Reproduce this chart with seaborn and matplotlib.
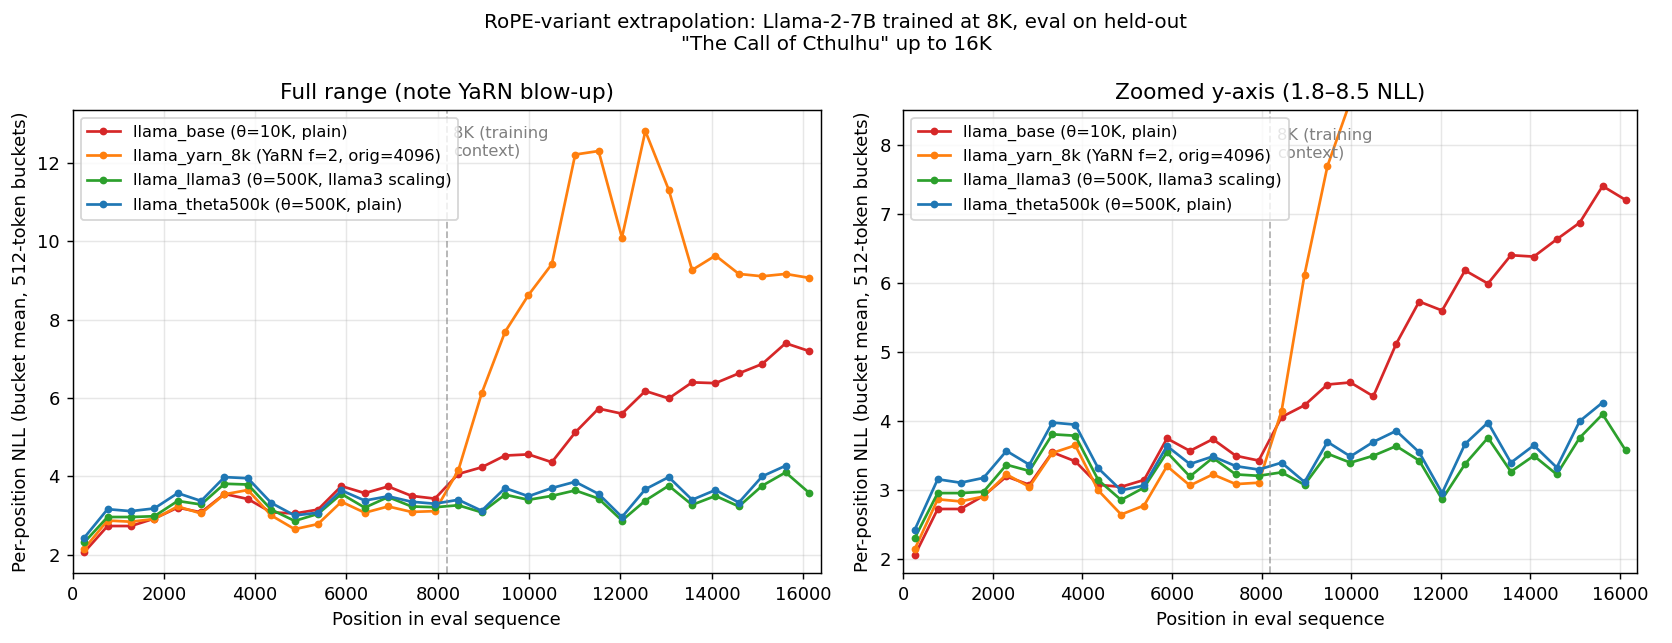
import seaborn as sns
import matplotlib
matplotlib.use("Agg")
import matplotlib.pyplot as plt

# bucket centres (512-token buckets)
positions = [256, 768, 1280, 1792, 2304, 2816, 3328, 3840, 4352, 4864, 5376, 5888,
             6400, 6912, 7424, 7936, 8448, 8960, 9472, 9984, 10496, 11008, 11520, 12032,
             12544, 13056, 13568, 14080, 14592, 15104, 15616, 16128]

llama_base = [2.06, 2.73, 2.73, 2.92, 3.20, 3.08, 3.55, 3.42, 3.08, 3.05, 3.15, 3.75,
              3.57, 3.74, 3.50, 3.43, 4.06, 4.23, 4.53, 4.56, 4.36, 5.12, 5.73, 5.60,
              6.18, 5.99, 6.40, 6.38, 6.63, 6.87, 7.40, 7.20]
llama_yarn_8k = [2.15, 2.87, 2.84, 2.91, 3.23, 3.05, 3.54, 3.65, 3.00, 2.65, 2.78, 3.35,
                 3.07, 3.23, 3.09, 3.11, 4.15, 6.12, 7.69, 8.63, 9.42, 12.22, 12.31, 10.10,
                 12.82, 11.32, 9.27, 9.64, 9.17, 9.11, 9.17, 9.07]
llama_llama3 = [2.31, 2.96, 2.96, 2.98, 3.37, 3.28, 3.81, 3.79, 3.15, 2.86, 3.04, 3.55,
                3.20, 3.47, 3.23, 3.21, 3.26, 3.08, 3.53, 3.40, 3.50, 3.64, 3.43, 2.87,
                3.38, 3.76, 3.27, 3.50, 3.23, 3.76, 4.10, 3.58]
llama_theta500k = [2.43, 3.16, 3.11, 3.18, 3.57, 3.37, 3.98, 3.95, 3.32, 3.00, 3.07, 3.64,
                   3.38, 3.49, 3.35, 3.30, 3.40, 3.12, 3.70, 3.49, 3.70, 3.86, 3.55, 2.96,
                   3.67, 3.98, 3.40, 3.65, 3.33, 4.00, 4.27]

series = [
    ("llama_base (θ=10K, plain)", llama_base, "#d62728"),
    ("llama_yarn_8k (YaRN f=2, orig=4096)", llama_yarn_8k, "#ff7f0e"),
    ("llama_llama3 (θ=500K, llama3 scaling)", llama_llama3, "#2ca02c"),
    ("llama_theta500k (θ=500K, plain)", llama_theta500k, "#1f77b4"),
]

W, H = 1672, 643
fig, axes = plt.subplots(1, 2, figsize=(W / 130, H / 130), dpi=130)
# axes boxes in pixels: (left, right)
boxes = [(72.5, 820.7), (903.3, 1637.0)]
bottom, top_px = 573.3, 110.0
for ax, (l, r) in zip(axes, boxes):
    ax.set_position([l / W, 1 - bottom / H, (r - l) / W, (bottom - top_px) / H])

titles = ["Full range (note YaRN blow-up)", "Zoomed y-axis (1.8–8.5 NLL)"]

for i, ax in enumerate(axes):
    for name, vals, col in series:
        sns.lineplot(x=positions[:len(vals)], y=vals, ax=ax, color=col, label=name,
                     marker="o", markersize=4.3, markeredgewidth=0, linewidth=1.5)
    if i == 1:
        ax.set_ylim(1.8, 8.5)
    ax.set_xlim(0, 16384)
    ax.axvline(8192, color="gray", linestyle="--", linewidth=1, alpha=0.6)
    top = ax.get_ylim()[1]
    ax.text(8192 + 150, top * 0.97, "8K (training\ncontext)", va="top",
            fontsize=9, color="gray")
    ax.grid(alpha=0.3)
    ax.set_title(titles[i], fontsize=12)
    ax.set_xlabel("Position in eval sequence")
    ax.set_ylabel("Per-position NLL (bucket mean, 512-token buckets)")
    ax.legend(loc="upper left", fontsize=9)

fig.suptitle("RoPE-variant extrapolation: Llama-2-7B trained at 8K, eval on held-out\n"
             "\"The Call of Cthulhu\" up to 16K", fontsize=11, y=0.98)

fig.savefig("out.png", dpi=130)
